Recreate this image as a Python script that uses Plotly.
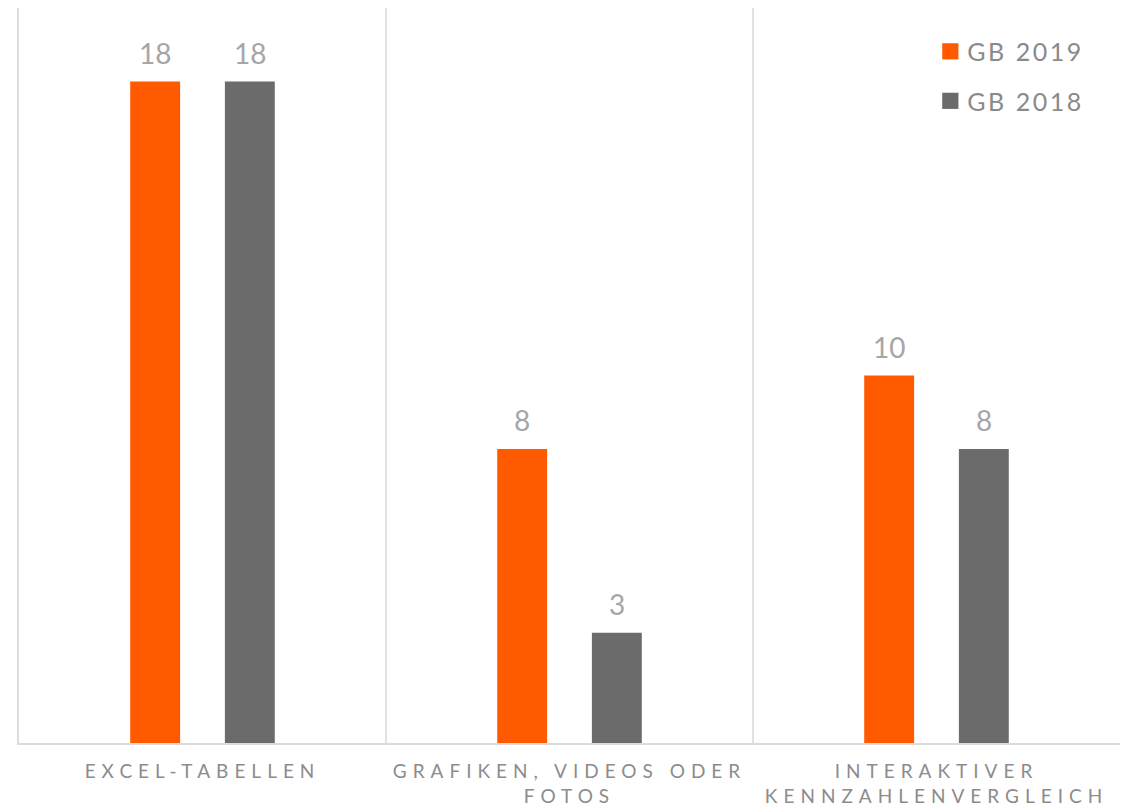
import plotly.graph_objects as go

categories = ["EXCEL-TABELLEN", "GRAFIKEN, VIDEOS ODER<br>FOTOS", "INTERAKTIVER<br>KENNZAHLENVERGLEICH"]
series_names = ["GB 2019", "GB 2018"]
values_2019 = [18, 8, 10]
values_2018 = [18, 3, 8]
colors = ["#FF5A00", "#6B6B6B"]

positions = list(range(len(categories)))
label_color = "#A6A6A6"
axis_color = "#DCDCDC"

fig = go.Figure()
for name, vals, col in zip(series_names, [values_2019, values_2018], colors):
    fig.add_trace(go.Bar(
        x=positions, y=vals, name=name, marker=dict(color=col, line=dict(width=0)),
        legendgroup=name, hoverinfo="skip",
    ))

# value labels above each bar (each bar's offset inside its group)
slot = (1 - 0.484) / 2
for i, vals in enumerate([values_2019, values_2018]):
    shift = (i - 0.5) * slot
    for p, v in zip(positions, vals):
        fig.add_annotation(
            x=p + shift, y=v, text=str(v), showarrow=False,
            yanchor="bottom", yshift=10,
            font=dict(family="Lato", size=28, color=label_color),
        )

fig.update_layout(
    width=1123, height=806,
    margin=dict(l=19, r=3, t=8, b=63, autoexpand=False),
    paper_bgcolor="white", plot_bgcolor="white",
    barmode="group", bargap=0.484, bargroupgap=0.473,
    showlegend=True,
    legend=dict(
        x=0.825, y=0.972, xanchor="left", yanchor="top",
        font=dict(family="Lato", size=25, color="#8A8A8A"),
        tracegroupgap=14, itemwidth=30, bgcolor="rgba(0,0,0,0)",
    ),
    xaxis=dict(
        range=[-0.5, len(categories) - 0.5],
        tickmode="array", tickvals=positions, ticktext=categories,
        tickfont=dict(family="Lato", size=19, color="#8C8C8C"),
        ticks="outside", ticklen=10, tickcolor="rgba(0,0,0,0)",
        showgrid=False, zeroline=False, automargin=False,
        showline=True, linecolor=axis_color, linewidth=2,
        minor=dict(tickmode="array", tickvals=[p + 0.5 for p in positions],
                   showgrid=True, gridcolor="#E2E2E2", gridwidth=1.5, ticks=""),
        fixedrange=True,
    ),
    yaxis=dict(
        range=[0, 20], showticklabels=False, showgrid=False, zeroline=False,
        showline=True, linecolor=axis_color, linewidth=2, ticks="",
        automargin=False, fixedrange=True,
    ),
)

tracking_css = """
var s = document.createElement('style');
s.textContent = '.xtick text { letter-spacing: 6px; }'
  + ' .legendtext { letter-spacing: 2.5px; }'
  + ' .legend .scrollbox { clip-path: none !important; }'
  + ' .legendpoints path { transform: translate(23px, 0px) scale(1.35); }';
document.head.appendChild(s);
"""

fig.write_html("out.html", post_script=tracking_css, config={"displayModeBar": False})
